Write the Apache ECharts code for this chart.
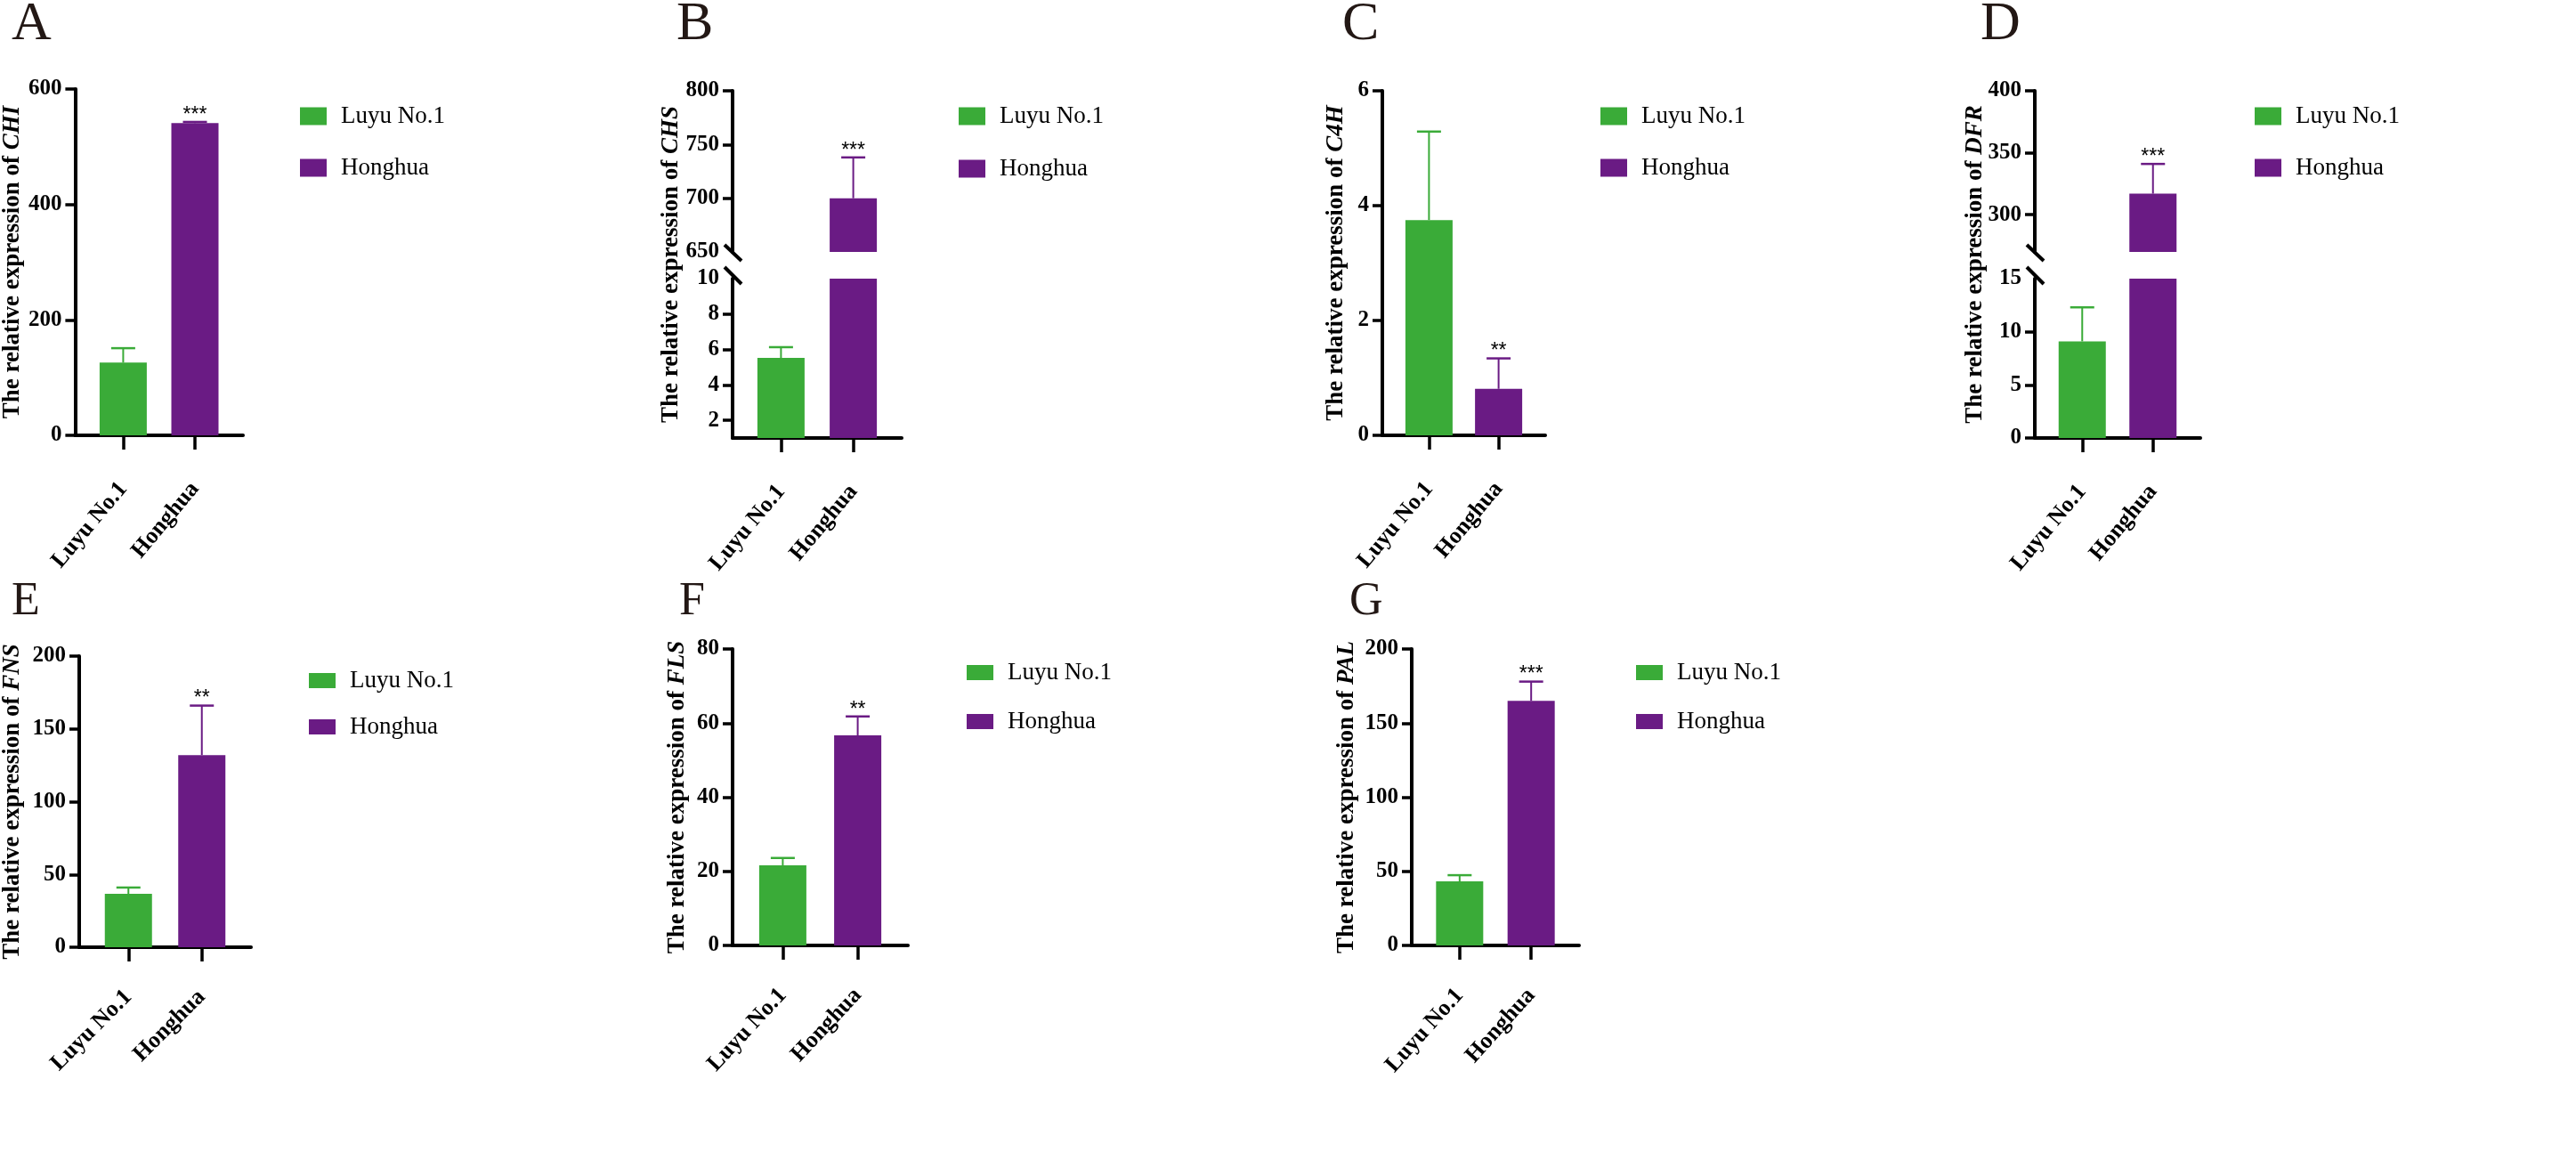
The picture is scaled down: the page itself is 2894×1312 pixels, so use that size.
<!DOCTYPE html>
<html>
<head>
<meta charset="utf-8">
<title>Relative expression of flavonoid genes</title>
<script src="https://cdn.jsdelivr.net/npm/echarts@6/dist/echarts.min.js"></script>
<style>
    html, body { margin: 0; padding: 0; background: #fff; overflow: hidden; }
    #chart { width: 2894px; height: 1312px; }
</style>
</head>
<body>
<div id="chart"></div>
<script>
// ---- data ----
var categories = ['Luyu No.1', 'Honghua'];
var genes = ['CHI', 'CHS', 'C4H', 'DFR', 'FNS', 'FLS', 'PAL'];
var panelLetters = ['A', 'B', 'C', 'D', 'E', 'F', 'G'];
var luyuMean = [126, 5.52, 3.75, 9.1, 36.7, 21.6, 43.2];
var luyuSd = [25, 0.61, 1.54, 3.2, 4.3, 2.0, 4.2];
var honghuaMean = [541, 700, 0.81, 317, 132, 56.7, 165];
var honghuaSd = [2, 38, 0.53, 24, 34, 5.1, 13];
var sigMarks = ['***', '***', '**', '***', '**', '**', '***'];

// y ranges (broken axes have a low and a high segment)
var rangeCHI = [0, 600];
var rangeCHSLow = [1, 10];
var rangeCHSHigh = [650, 800];
var rangeC4H = [0, 6];
var rangeDFRLow = [0, 15];
var rangeDFRHigh = [270, 400];
var rangeFNS = [0, 200];
var rangeFLS = [0, 80];
var rangePAL = [0, 200];

// tick labels
var ticksCHI = [0, 200, 400, 600];
var ticksCHSLow = [2, 4, 6, 8, 10];
var ticksCHSHigh = [650, 700, 750, 800];
var ticksC4H = [0, 2, 4, 6];
var ticksDFRLow = [0, 5, 10, 15];
var ticksDFRHigh = [300, 350, 400];
var ticksFNS = [0, 50, 100, 150, 200];
var ticksFLS = [0, 20, 40, 60, 80];
var ticksPAL = [0, 50, 100, 150, 200];

var panelRanges = [[rangeCHI], [rangeCHSLow, rangeCHSHigh], [rangeC4H], [rangeDFRLow, rangeDFRHigh], [rangeFNS], [rangeFLS], [rangePAL]];
var panelTicks = [[ticksCHI], [ticksCHSLow, ticksCHSHigh], [ticksC4H], [ticksDFRLow, ticksDFRHigh], [ticksFNS], [ticksFLS], [ticksPAL]];

// ---- layout (pixels) ----
var layout = [
    { left: 83,   right: 273,  segs: [[100, 489]],             nameGap: 56, letter: [13, -3],   letterSize: 62, legend: [337, 117],  icon: [30, 20], gap: 31, rot: 50, margin: 56 },
    { left: 823,  right: 1013, segs: [[313, 492], [102, 283]], nameGap: 55, letter: [760, -3],  letterSize: 62, legend: [1077, 117], icon: [30, 20], gap: 32, rot: 50, margin: 56 },
    { left: 1553, right: 1736, segs: [[102, 489]],             nameGap: 38, letter: [1508, -3], letterSize: 62, legend: [1798, 117], icon: [30, 20], gap: 31, rot: 50, margin: 56 },
    { left: 2286, right: 2472, segs: [[313, 492], [102, 283]], nameGap: 53, letter: [2225, -3], letterSize: 62, legend: [2533, 117], icon: [30, 20], gap: 31, rot: 50, margin: 56 },
    { left: 88,   right: 282,  segs: [[737, 1064]],            nameGap: 61, letter: [13, 650],  letterSize: 52, legend: [347, 751],  icon: [30, 17], gap: 25, rot: 45, margin: 52 },
    { left: 823,  right: 1020, segs: [[729, 1062]],            nameGap: 48, letter: [763, 650], letterSize: 52, legend: [1086, 742], icon: [30, 17], gap: 28, rot: 47, margin: 52 },
    { left: 1586, right: 1774, segs: [[729, 1062]],            nameGap: 59, letter: [1516, 650], letterSize: 52, legend: [1838, 742], icon: [30, 17], gap: 28, rot: 48, margin: 52 }
];

var colorLuyu = '#3AAB38';
var colorHonghua = '#6A1B84';
var serif = 'Liberation Serif, Times New Roman, serif';
var xMin = -0.67, xMax = 1.67;

function makeErrorRenderer(sig) {
    return function (params, api) {
        var x = api.value(0);
        var m = api.value(1);
        var e = api.value(2);
        var base = api.coord([x, m]);
        var top = api.coord([x, m + e]);
        var color = x === 0 ? colorLuyu : colorHonghua;
        var children = [
            { type: 'line', shape: { x1: base[0], y1: base[1], x2: top[0], y2: top[1] }, style: { stroke: color, lineWidth: 2 } },
            { type: 'line', shape: { x1: top[0] - 13.5, y1: top[1], x2: top[0] + 13.5, y2: top[1] }, style: { stroke: color, lineWidth: 2.5 } }
        ];
        if (x === 1) {
            children.push({
                type: 'text',
                style: {
                    text: sig, x: top[0], y: top[1] + 4,
                    align: 'center', verticalAlign: 'bottom',
                    font: '23px "Liberation Sans", Arial, sans-serif', fill: '#000'
                }
            });
        }
        return { type: 'group', children: children };
    };
}

function axisTitle(gene) {
    return '{t|The relative expression of }{g|' + gene + '}';
}

var titleRich = {
    t: { fontFamily: serif, fontWeight: 'bold', fontSize: 27, color: '#000' },
    g: { fontFamily: serif, fontWeight: 'bold', fontStyle: 'italic', fontSize: 27, color: '#000' }
};

var grids = [], xAxes = [], yAxes = [], series = [], legends = [], titles = [];
var breakPoints = [];

genes.forEach(function (gene, p) {
    var lay = layout[p];
    var ranges = panelRanges[p];
    var ticks = panelTicks[p];
    var broken = ranges.length > 1;
    var means = [luyuMean[p], honghuaMean[p]];
    var sds = [luyuSd[p], honghuaSd[p]];

    function segOf(v) {
        return broken && v > ranges[1][0] ? 1 : 0;
    }

    ranges.forEach(function (range, s) {
        var seg = lay.segs[s];
        var gi = grids.length;
        grids.push({ left: lay.left, top: seg[0], width: lay.right - lay.left, height: seg[1] - seg[0] });

        // tick marks skip the break edges
        var tickMarks = ticks[s].filter(function (t) {
            if (!broken) return true;
            return s === 0 ? t !== range[1] : t !== range[0];
        });

        xAxes.push({
            type: 'value',
            gridIndex: gi,
            min: xMin,
            max: xMax,
            show: s === 0,
            axisLine: { show: true, onZero: false, lineStyle: { color: '#000', width: 4 } },
            axisTick: { show: true, customValues: [0, 1], length: 16, lineStyle: { color: '#000', width: 3.5 } },
            axisLabel: {
                customValues: [0, 1],
                formatter: function (v) { return categories[Math.round(v)]; },
                rotate: lay.rot,
                margin: lay.margin,
                fontFamily: serif,
                fontWeight: 'bold',
                fontSize: 26,
                color: '#000'
            },
            splitLine: { show: false }
        });

        var yAxis = {
            type: 'value',
            gridIndex: gi,
            min: range[0],
            max: range[1],
            axisLine: { show: true, onZero: false, lineStyle: { color: '#000', width: 4 } },
            axisTick: { show: true, customValues: tickMarks, length: 11, lineStyle: { color: '#000', width: 3.5 } },
            axisLabel: {
                customValues: ticks[s],
                margin: 15,
                fontFamily: serif,
                fontWeight: 'bold',
                fontSize: 25,
                color: '#000'
            },
            splitLine: { show: false }
        };
        if (!broken) {
            yAxis.name = axisTitle(gene);
            yAxis.nameLocation = 'middle';
            yAxis.nameRotate = 90;
            yAxis.nameGap = lay.nameGap;
            yAxis.nameTextStyle = { rich: titleRich };
        }
        yAxes.push(yAxis);

        if (broken) {
            breakPoints.push({ grid: gi, value: s === 0 ? range[1] : range[0], upper: s === 1 });
        }

        // bars: the low segment always gets both (clipped at its top)
        var lowData = [], highData = [];
        [0, 1].forEach(function (i) {
            var show = s === 0 || means[i] > range[0];
            (i === 0 ? lowData : highData).push(show ? [i, means[i]] : [i, '-']);
        });
        series.push({
            type: 'bar', name: categories[0], xAxisIndex: gi, yAxisIndex: gi,
            barWidth: 53, barGap: '-100%', clip: true,
            itemStyle: { color: colorLuyu },
            data: lowData
        });
        series.push({
            type: 'bar', name: categories[1], xAxisIndex: gi, yAxisIndex: gi,
            barWidth: 53, barGap: '-100%', clip: true,
            itemStyle: { color: colorHonghua },
            data: highData
        });

        // error bars go in the segment holding mean + sd
        var errData = [];
        [0, 1].forEach(function (i) {
            if (segOf(means[i] + sds[i]) === s) errData.push([i, means[i], sds[i]]);
        });
        series.push({
            type: 'custom', xAxisIndex: gi, yAxisIndex: gi, silent: true, z: 3,
            encode: { x: 0, y: 1 },
            renderItem: makeErrorRenderer(sigMarks[p]),
            data: errData
        });
    });

    // a frame grid carries the axis title for broken panels
    if (broken) {
        var fi = grids.length;
        var topY = lay.segs[lay.segs.length - 1][0];
        var botY = lay.segs[0][1];
        grids.push({ left: lay.left, top: topY, width: lay.right - lay.left, height: botY - topY });
        xAxes.push({ type: 'value', gridIndex: fi, show: false, min: 0, max: 1 });
        yAxes.push({
            type: 'value', gridIndex: fi, min: 0, max: 1,
            axisLine: { show: false }, axisTick: { show: false }, axisLabel: { show: false }, splitLine: { show: false },
            name: axisTitle(gene), nameLocation: 'middle', nameRotate: 90, nameGap: lay.nameGap,
            nameTextStyle: { rich: titleRich }
        });
    }

    legends.push({
        left: lay.legend[0],
        top: lay.legend[1],
        orient: 'vertical',
        padding: 0,
        itemWidth: lay.icon[0],
        itemHeight: lay.icon[1],
        itemGap: lay.gap,
        icon: 'rect',
        selectedMode: false,
        data: categories,
        textStyle: { fontFamily: serif, fontSize: 27, color: '#000', lineHeight: lay.icon[1], padding: [0, 0, 0, 11] }
    });

    titles.push({
        text: panelLetters[p],
        left: lay.letter[0],
        top: lay.letter[1],
        padding: 0,
        textStyle: { fontFamily: serif, fontWeight: 'normal', fontSize: lay.letterSize, color: '#231815' }
    });
});

var myChart = echarts.init(document.getElementById('chart'));

myChart.setOption({
    animation: false,
    backgroundColor: '#fff',
    title: titles,
    legend: legends,
    grid: grids,
    xAxis: xAxes,
    yAxis: yAxes,
    series: series
});

// break marks on the broken y axes
var slashes = breakPoints.map(function (bp) {
    var pt = myChart.convertToPixel({ gridIndex: bp.grid }, [xMin, bp.value]);
    var dy = bp.upper ? [-8, 10] : [-13, 6];
    return {
        type: 'line',
        shape: { x1: pt[0] - 9, y1: pt[1] + dy[0], x2: pt[0] + 10, y2: pt[1] + dy[1] },
        style: { stroke: '#000', lineWidth: 4 },
        z: 10
    };
});
myChart.setOption({ graphic: slashes });

window.addEventListener('resize', function () {
    myChart.resize();
});
</script>
</body>
</html>
